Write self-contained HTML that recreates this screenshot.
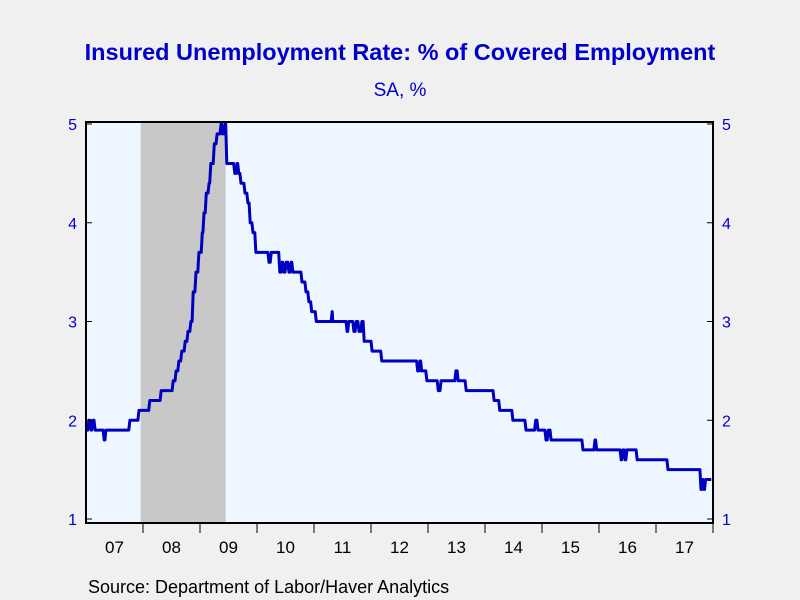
<!DOCTYPE html>
<html><head><meta charset="utf-8">
<style>
body{margin:0;background:#f0f0f0;}
svg{display:block;font-family:"Liberation Sans",Arial,sans-serif;}
</style></head>
<body>
<svg id="chart" width="800" height="600" xmlns="http://www.w3.org/2000/svg">
<rect width="800" height="600" fill="#f0f0f0"/>
<text x="400" y="60" text-anchor="middle" font-size="23.5" font-weight="bold" fill="#0000cc">Insured Unemployment Rate: % of Covered Employment</text>
<text x="400" y="96" text-anchor="middle" font-size="19" fill="#0000cc">SA, %</text>
<rect x="86" y="122" width="627" height="401" fill="#eef6ff"/>
<g id="shade"></g>
<g id="series"></g>
<rect x="86" y="122" width="627" height="401" fill="none" stroke="#000" stroke-width="2"/>
<g id="axes"></g>
<text x="88" y="593" font-size="18" fill="#000">Source:  Department of Labor/Haver Analytics</text>
</svg>
<script>
const years=[2007,2008,2009,2010,2011,2012,2013,2014,2015,2016,2017];
const yearLabels=["07","08","09","10","11","12","13","14","15","16","17"];
const yTicks=[1,2,3,4,5];
const recession=[2007.96,2009.45];
const dates=[2007.00,2007.05,2007.09,2007.12,2007.16,2007.32,2007.35,2007.77,2007.93,2008.12,2008.32,2008.53,2008.58,2008.63,2008.68,2008.74,2008.79,2008.84,2008.88,2008.93,2008.98,2009.04,2009.07,2009.11,2009.16,2009.19,2009.25,2009.30,2009.37,2009.40,2009.44,2009.47,2009.61,2009.65,2009.68,2009.72,2009.79,2009.84,2009.88,2009.93,2009.98,2010.21,2010.25,2010.40,2010.44,2010.47,2010.51,2010.56,2010.60,2010.63,2010.79,2010.86,2010.91,2010.96,2011.04,2011.32,2011.33,2011.58,2011.61,2011.70,2011.74,2011.79,2011.84,2011.88,2012.02,2012.19,2012.82,2012.86,2012.89,2012.98,2013.18,2013.23,2013.49,2013.53,2013.67,2014.16,2014.26,2014.49,2014.72,2014.89,2014.93,2015.07,2015.11,2015.16,2015.72,2015.93,2015.96,2016.39,2016.42,2016.46,2016.49,2016.67,2017.21,2017.79,2017.82,2017.84,2017.87,2017.96];
const values=[1.9,2.0,1.9,2.0,1.9,1.8,1.9,2.0,2.1,2.2,2.3,2.4,2.5,2.6,2.7,2.8,2.9,3.0,3.3,3.5,3.7,3.9,4.1,4.3,4.4,4.6,4.8,4.9,5.0,4.9,5.0,4.6,4.5,4.6,4.5,4.4,4.3,4.2,4.0,3.9,3.7,3.6,3.7,3.5,3.6,3.5,3.6,3.5,3.6,3.5,3.4,3.3,3.2,3.1,3.0,3.1,3.0,2.9,3.0,2.9,3.0,2.9,3.0,2.8,2.7,2.6,2.5,2.6,2.5,2.4,2.3,2.4,2.5,2.4,2.3,2.2,2.1,2.0,1.9,2.0,1.9,1.8,1.9,1.8,1.7,1.8,1.7,1.6,1.7,1.6,1.7,1.6,1.5,1.3,1.4,1.3,1.4,1.4];
const NS="http://www.w3.org/2000/svg";
const X0=86,X1=713,Y1=519,Y5=124;
const xs=t=>X0+(t-2007)/11*(X1-X0);
const ys=v=>Y1-(v-1)/4*(Y1-Y5);
function mk(tag,attrs,parent){const e=document.createElementNS(NS,tag);for(const k in attrs)e.setAttribute(k,attrs[k]);parent.appendChild(e);return e;}
const shade=document.getElementById('shade');
const r=mk('rect',{x:xs(recession[0]),y:123,width:xs(recession[1])-xs(recession[0]),height:399,fill:'#c8c8c8'},shade);


const wk=1/52;
let d='';
for(let i=0;i<dates.length;i++){
  const y=ys(values[i]).toFixed(1);
  if(i===0){d+='M'+xs(dates[i]).toFixed(1)+' '+y;continue;}
  const prev=Math.max(dates[i-1],dates[i]-wk);
  d+='L'+xs(prev).toFixed(1)+' '+ys(values[i-1]).toFixed(1)+'L'+xs(dates[i]).toFixed(1)+' '+y;
}
d+='L'+xs(2017.97).toFixed(1)+' '+ys(values[values.length-1]).toFixed(1);
const p=mk('path',{d:d,fill:'none',stroke:'#0000c0','stroke-width':3,'stroke-linejoin':'round'},document.getElementById('series'));


const ax=document.getElementById('axes');
yTicks.forEach(v=>{
  const y=ys(v);
  mk('line',{x1:X0,x2:X0+6,y1:y,y2:y,stroke:'#000','stroke-width':1},ax);
  mk('line',{x1:X1-6,x2:X1,y1:y,y2:y,stroke:'#000','stroke-width':1},ax);
  const l=mk('text',{x:X0-9,y:y+6,'text-anchor':'end','font-size':16,fill:'#0000cc'},ax);l.textContent=v;
  
  
  const rr=mk('text',{x:X1+9,y:y+6,'text-anchor':'start','font-size':16,fill:'#0000cc'},ax);rr.textContent=v;
  
  
});
years.forEach((yr,i)=>{
  if(i>0)mk('line',{x1:xs(yr),x2:xs(yr),y1:523,y2:533,stroke:'#000','stroke-width':1},ax);
  const t=mk('text',{x:xs(yr+0.5),y:553,'text-anchor':'middle','font-size':17,fill:'#000'},ax);t.textContent=yearLabels[i];
  
  
});
mk('line',{x1:X1,x2:X1,y1:523,y2:533,stroke:'#000','stroke-width':1},ax);
</script>
</body></html>
